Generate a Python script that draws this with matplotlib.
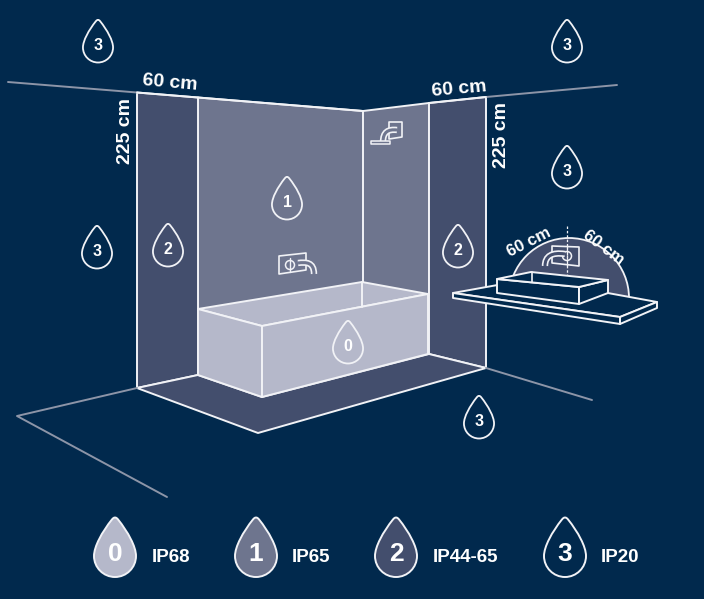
import matplotlib
matplotlib.use("Agg")
import matplotlib.pyplot as plt
from matplotlib.path import Path
from matplotlib.patches import PathPatch, Polygon, Circle, Wedge

BG = "#01294d"
Z0 = "#b5b8ca"
Z1 = "#6e758e"
Z2 = "#434e6d"
WHITE = "#f1f2f6"
GREY = "#8d95a8"

plt.rcParams["font.family"] = ["Liberation Sans", "DejaVu Sans"]

# small drops in the scene: x, y, zone
drop_x = [98, 567, 567, 97, 168, 287, 458, 348, 479]
drop_y = [41, 41, 167, 247, 245, 198, 246, 342, 417]
drop_zone = ["3", "3", "3", "3", "2", "1", "2", "0", "3"]

# legend row
legend_zone = ["0", "1", "2", "3"]
legend_x = [115, 256, 396, 565]
legend_label = ["IP68", "IP65", "IP44-65", "IP20"]
legend_label_x = [152, 292, 433, 601]
legend_fill = [Z0, Z1, Z2, BG]

# dimensions: text, x, y, rotation, size
dim_text = ["60 cm", "60 cm", "225 cm", "225 cm", "60 cm", "60 cm"]
dim_x = [170, 459, 125, 502, 529, 603]
dim_y = [83, 89, 131, 135, 242, 248]
dim_rot = [-5, 5, 90, 90, 27, -37]
dim_size = [14, 14, 14, 14, 12, 12]

wall_left = [(137, 92.5), (198, 97.5), (198, 375), (137, 388)]
wall_right = [(429, 103), (486, 97), (486, 368), (429, 354)]
wall_back = [(198, 97.5), (363, 111), (429, 103), (429, 354), (198, 375)]
floor = [(137, 388), (198, 375), (262, 397), (429, 354), (486, 368), (258, 433)]
tub_top = [(198, 309), (362, 282), (428, 294), (262, 326)]
tub_front = [(198, 309), (262, 326), (262, 397), (198, 375)]
tub_side = [(262, 326), (428, 294), (428, 354), (262, 397)]

fig = plt.figure(figsize=(7.04, 5.99), dpi=100, facecolor=BG)
ax = fig.add_axes([0, 0, 1, 1])
ax.set_xlim(0, 704)
ax.set_ylim(599, 0)
ax.axis("off")


def poly(pts, fill="none", lw=1.4, color=WHITE, z=2):
    ax.add_patch(Polygon(pts, closed=True, facecolor=fill, edgecolor=color,
                         linewidth=lw, joinstyle="round", zorder=z))


def line(pts, color=WHITE, lw=1.4, z=3, **kw):
    ax.plot([p[0] for p in pts], [p[1] for p in pts], color=color, lw=lw,
            zorder=z, solid_capstyle="round", **kw)


def drop(x, y, h, label, fill="none", lw=1.3, size=11.5):
    w = h * 0.7
    top = y - h / 2
    bot = y + h / 2
    r = w / 2
    cy = bot - r
    tip = h * 0.05
    verts = [(x - tip, top + tip * 0.8), (x - r * 0.62, top + h * 0.25), (x - r, cy - r * 0.45), (x - r, cy),
             (x - r, cy + r * 0.55), (x - r * 0.55, bot), (x, bot),
             (x + r * 0.55, bot), (x + r, cy + r * 0.55), (x + r, cy),
             (x + r, cy - r * 0.45), (x + r * 0.62, top + h * 0.25), (x + tip, top + tip * 0.8),
             (x, top - tip * 0.5), (x - tip, top + tip * 0.8)]
    codes = [Path.MOVETO] + [Path.CURVE4] * 12 + [Path.CURVE3] * 2
    ax.add_patch(PathPatch(Path(verts, codes), facecolor=fill, edgecolor=WHITE,
                           linewidth=lw, zorder=6, joinstyle="round"))
    ax.text(x, cy - h * 0.04, label, color="white", fontsize=size, fontweight="bold",
            ha="center", va="center", zorder=7)


def tube(verts, under, lw=4.6):
    # spout drawn as white outline with the wall colour inside
    codes = [Path.MOVETO] + [Path.CURVE4] * (len(verts) - 1)
    for c, w in ((WHITE, lw), (under, lw - 2.4)):
        ax.add_patch(PathPatch(Path(verts, codes), facecolor="none", edgecolor=c,
                               linewidth=w, capstyle="butt", zorder=5))


# walls
poly(wall_back, Z1)
poly(wall_left, Z2)
poly(wall_right, Z2)
poly(floor, Z2)
line([(363, 111), (363, 282)])

# stray outline lines
line([(8, 82), (137, 92.5)], GREY)
line([(137, 92.5), (363, 111)])
line([(486, 97), (617, 85)], GREY)
line([(429, 103), (486, 97)])
line([(137, 388), (17, 416), (167, 497)], GREY)
line([(486, 368), (592, 400)], GREY)

# bath
poly(tub_top, Z0, z=3)
poly(tub_front, Z0, z=3)
poly(tub_side, Z0, z=3)
line([(362, 282), (362, 307)], z=4)

# wall mixer above the bath
poly([(279, 256), (306, 253), (306, 270), (279, 274)], Z1, lw=1.2, z=4)
ax.add_patch(Circle((290, 265), 4.5, facecolor="none", edgecolor=WHITE, lw=1.1, zorder=5))
line([(290, 258), (290, 272)], lw=1.0, z=5)
tube([(298, 263), (306, 262), (314, 262), (314, 274)], Z1)

# shower
poly([(389, 122), (402, 122), (402, 137), (389, 139)], Z1, lw=1.2, z=4)
tube([(397, 130), (388, 129), (383, 132), (383, 142)], Z1)
poly([(371, 141), (390, 141), (390, 144), (371, 144)], Z1, lw=1.1, z=5)

# washbasin zone
ax.add_patch(Wedge((569, 298), 60, 180, 360, facecolor=Z2, edgecolor=WHITE, lw=1.3, zorder=2))
poly([(453, 293), (531, 279), (657, 302), (620, 317)], BG, z=3)
poly([(453, 293), (620, 317), (620, 324), (453, 298)], BG, z=3)
poly([(620, 317), (657, 302), (657, 308), (620, 324)], BG, z=3)
poly([(497, 279), (579, 287), (579, 304), (497, 293)], BG, z=4)
poly([(579, 287), (608, 280), (608, 293), (579, 304)], BG, z=4)
poly([(497, 279), (531, 272), (608, 280), (579, 287)], BG, z=4)
line([(532, 272), (532, 282)], lw=1.2, z=5)
line([(567, 226), (567, 275)], lw=0.9, z=5, linestyle=(0, (2, 1.5)))
poly([(552, 246), (579, 247), (579, 266), (552, 263)], Z2, lw=1.2, z=4)
ax.add_patch(Circle((567, 256), 4.5, facecolor="none", edgecolor=WHITE, lw=1.1, zorder=5))
tube([(565, 254), (552, 252), (545, 256), (545, 266)], Z2)
line([(567, 246), (567, 266)], lw=0.9, z=6, linestyle=(0, (2, 1.5)))

# drops
for x, y, z in zip(drop_x, drop_y, drop_zone):
    drop(x, y, 43, z)

for z, x, lab, lx, f in zip(legend_zone, legend_x, legend_label, legend_label_x, legend_fill):
    drop(x, 547, 60, z, fill=f, size=19, lw=1.4)
    ax.text(lx, 558, lab, color="white", fontsize=13.5, fontweight="bold", ha="left", va="center")

for t, x, y, r, s in zip(dim_text, dim_x, dim_y, dim_rot, dim_size):
    ax.text(x, y, t, color="white", fontsize=s, fontweight="bold", rotation=r,
            rotation_mode="anchor", ha="center", va="center", zorder=8)

fig.savefig("out.png", dpi=100, facecolor=BG)
